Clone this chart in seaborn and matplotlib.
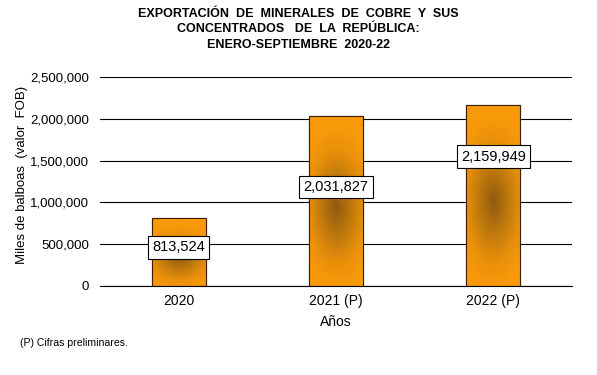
import matplotlib.pyplot as plt
import matplotlib.ticker as ticker
import numpy as np
import pandas as pd
import seaborn as sns
from matplotlib.colors import LinearSegmentedColormap

years = ["2020", "2021 (P)", "2022 (P)"]
values = [813524, 2031827, 2159949]
label_y = [465000, 1185000, 1545000]

df = pd.DataFrame({"Año": years, "Valor": values})

sns.set_theme(style="white")
plt.rcParams["font.family"] = ["Liberation Sans", "DejaVu Sans"]
plt.rcParams["text.color"] = "black"
plt.rcParams["axes.labelcolor"] = "black"
plt.rcParams["xtick.color"] = "black"
plt.rcParams["ytick.color"] = "black"

fig = plt.figure(figsize=(5.97, 3.75), dpi=100)
ax = fig.add_axes([100 / 597, 1 - 286 / 375, 472 / 597, 209 / 375])

sns.barplot(data=df, x="Año", y="Valor", ax=ax, width=0.345,
            color="#f5990a", edgecolor="#3a2000", linewidth=0.8, zorder=2)

ax.set_xlim(-0.5, 2.5)
ax.set_ylim(0, 2500000)

# radial shading inside each bar (elliptic, scaled to the bar)
px_x = 472 / 3.0
px_y = 209 / 2500000.0
cmap = LinearSegmentedColormap.from_list(
    "cobre", [(0, "#915a10"), (0.3, "#bb770d"), (0.6, "#e88f0b"), (0.85, "#f7990a"), (1, "#f89a08")])
for bar in ax.patches:
    x0, y0 = bar.get_x(), bar.get_y()
    w, h = bar.get_width(), bar.get_height()
    wp, hp = w * px_x, h * px_y
    xs = np.linspace(-wp / 2, wp / 2, int(wp) + 1)
    ys = np.linspace(-hp / 2, hp / 2, int(hp) + 1)
    gx, gy = np.meshgrid(xs, ys)
    d = np.sqrt((gx / (0.85 * wp)) ** 2 + ((gy + 6) / (0.55 * hp)) ** 2)
    d = np.clip(d, 0, 1)
    im = ax.imshow(d, extent=[x0, x0 + w, y0, y0 + h], origin="lower",
                   cmap=cmap, vmin=0, vmax=1, aspect="auto", zorder=2.1,
                   interpolation="bilinear")
    im.set_clip_path(bar)
    ax.add_patch(plt.Rectangle((x0, y0), w, h, fill=False, edgecolor="#3a2000",
                               linewidth=0.8, zorder=2.2))

for i, (v, ly) in enumerate(zip(values, label_y)):
    ax.text(i, ly, f"{v:,}", ha="center", va="center", fontsize=10.5, zorder=3,
            bbox=dict(boxstyle="square,pad=0.3", facecolor="white",
                      edgecolor="black", linewidth=0.8))

ax.set_yticks(range(0, 2500001, 500000))
ax.yaxis.set_major_formatter(ticker.FuncFormatter(lambda x, pos: f"{x:,.0f}"))
ax.yaxis.grid(True, color="black", linewidth=0.8, zorder=0)
ax.set_axisbelow(True)
for s in ["top", "right", "left"]:
    ax.spines[s].set_visible(False)
ax.spines["bottom"].set_color("black")
ax.spines["bottom"].set_linewidth(0.8)
ax.tick_params(axis="y", labelsize=9.5, pad=8, length=0)
ax.tick_params(axis="x", labelsize=10, pad=6, length=0)
ax.set_xlabel("Años", fontsize=10, labelpad=5)
ax.set_ylabel("Miles de balboas  (valor  FOB)", fontsize=9.5)
ax.yaxis.set_label_coords(-0.152, 0.53)

fig.text(0.5, 0.978, "EXPORTACIÓN  DE  MINERALES  DE  COBRE  Y  SUS\nCONCENTRADOS   DE  LA  REPÚBLICA:\nENERO-SEPTIEMBRE  2020-22",
         ha="center", va="top", fontsize=9.0, fontweight="bold", linespacing=1.35)
fig.text(20 / 597, 1 - 343 / 375, "(P) Cifras preliminares.", fontsize=7.6, va="center")

fig.savefig("out.png", dpi=100)
